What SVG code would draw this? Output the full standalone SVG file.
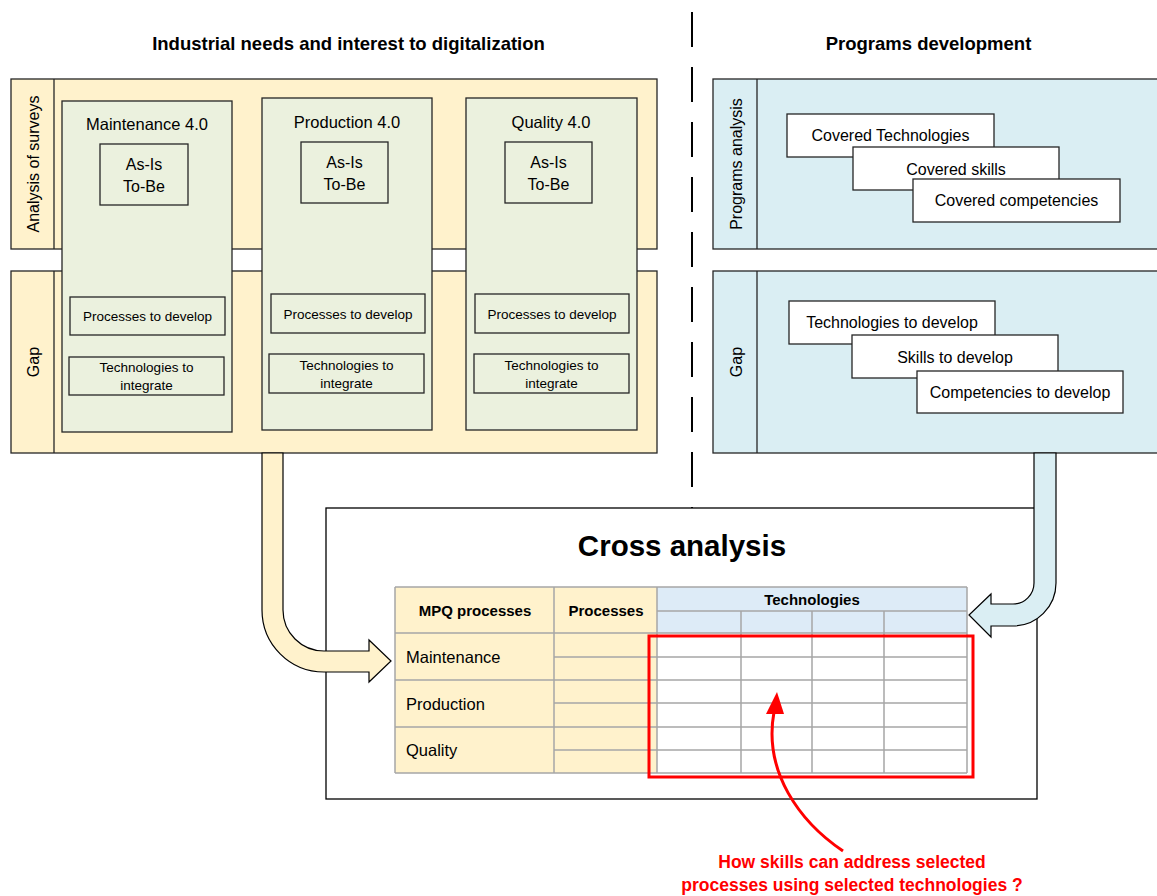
<svg xmlns="http://www.w3.org/2000/svg" width="1157" height="896" viewBox="0 0 1157 896">
<style>
text{font-family:"Liberation Sans",Arial,sans-serif;fill:#000}
.tan{fill:#FFF2CC;stroke:#262626;stroke-width:1.3}
.blu{fill:#DAEEF3;stroke:#262626;stroke-width:1.3}
.grn{fill:#EBF1DE;stroke:#262626;stroke-width:1.3}
.wht{fill:#fff;stroke:#262626;stroke-width:1.3}
.div{stroke:#262626;stroke-width:1.3}
.hd{font-weight:bold;font-size:18.5px;text-anchor:middle}
.ct{font-size:16.5px;text-anchor:middle}
.ab{font-size:16px;text-anchor:middle}
.sm{font-size:13.5px;text-anchor:middle}
.vl{font-size:16px;text-anchor:middle}
.bx{font-size:16px;text-anchor:middle}
.grid{stroke:#A6A6A6;stroke-width:1.5;fill:none}
.tb{font-weight:bold;font-size:15px;text-anchor:middle}
.rl{font-size:16.5px}
.red{fill:#FF0000;font-weight:bold;font-size:17.5px;text-anchor:middle}
</style>

<g id="headings">
<text class="hd" x="348.5" y="50">Industrial needs and interest to digitalization</text>
<text class="hd" x="928.5" y="50">Programs development</text>
</g>

<g id="separator">
<line x1="692" y1="12" x2="692" y2="508" stroke="#000" stroke-width="2" stroke-dasharray="35 20"/>
</g>

<g id="left-bands">
<rect class="tan" x="11" y="79" width="646" height="170"/>
<line class="div" x1="54" y1="79" x2="54" y2="249"/>
<text class="vl" transform="translate(39 164) rotate(-90)">Analysis of surveys</text>
<rect class="tan" x="11" y="271" width="646" height="182"/>
<line class="div" x1="54" y1="271" x2="54" y2="453"/>
<text class="vl" transform="translate(39 362) rotate(-90)">Gap</text>
</g>

<g id="maintenance">
<rect class="grn" x="62" y="101" width="170" height="331"/>
<text class="ct" x="147" y="130">Maintenance 4.0</text>
<rect class="grn" x="100" y="144" width="88" height="61"/>
<text class="ab" x="144" y="170">As-Is</text>
<text class="ab" x="144" y="192">To-Be</text>
<rect class="grn" x="70" y="297" width="155" height="38"/>
<text class="sm" x="147.5" y="321">Processes to develop</text>
<rect class="grn" x="69" y="357" width="155" height="38"/>
<text class="sm" x="146.5" y="372">Technologies to</text>
<text class="sm" x="146.5" y="390">integrate</text>
</g>

<g id="production">
<rect class="grn" x="262" y="98" width="170" height="332"/>
<text class="ct" x="347" y="128">Production 4.0</text>
<rect class="grn" x="301" y="142" width="87" height="61"/>
<text class="ab" x="344.5" y="168">As-Is</text>
<text class="ab" x="344.5" y="190">To-Be</text>
<rect class="grn" x="271" y="294" width="154" height="39"/>
<text class="sm" x="348" y="319">Processes to develop</text>
<rect class="grn" x="269" y="354" width="155" height="39"/>
<text class="sm" x="346.5" y="370">Technologies to</text>
<text class="sm" x="346.5" y="388">integrate</text>
</g>

<g id="quality">
<rect class="grn" x="466" y="98" width="171" height="332"/>
<text class="ct" x="551" y="128">Quality 4.0</text>
<rect class="grn" x="505" y="142" width="87" height="61"/>
<text class="ab" x="548.5" y="168">As-Is</text>
<text class="ab" x="548.5" y="190">To-Be</text>
<rect class="grn" x="475" y="294" width="154" height="39"/>
<text class="sm" x="552" y="319">Processes to develop</text>
<rect class="grn" x="474" y="354" width="155" height="39"/>
<text class="sm" x="551.5" y="370">Technologies to</text>
<text class="sm" x="551.5" y="388">integrate</text>
</g>

<g id="right-bands">
<rect class="blu" x="713" y="79" width="450" height="170"/>
<line class="div" x1="757" y1="79" x2="757" y2="249"/>
<text class="vl" transform="translate(742 164) rotate(-90)">Programs analysis</text>
<rect class="blu" x="713" y="271" width="450" height="182"/>
<line class="div" x1="757" y1="271" x2="757" y2="453"/>
<text class="vl" transform="translate(742 362) rotate(-90)">Gap</text>
</g>

<g id="programs-analysis">
<rect class="wht" x="787" y="114" width="207" height="43"/>
<text class="bx" x="890.5" y="141">Covered Technologies</text>
<rect class="wht" x="853" y="147" width="206" height="43"/>
<text class="bx" x="956" y="175">Covered skills</text>
<rect class="wht" x="913" y="179" width="207" height="43"/>
<text class="bx" x="1016.5" y="206">Covered competencies</text>
</g>

<g id="programs-gap">
<rect class="wht" x="789" y="301" width="206" height="43"/>
<text class="bx" x="892" y="328">Technologies to develop</text>
<rect class="wht" x="852" y="335" width="206" height="43"/>
<text class="bx" x="955" y="363">Skills to develop</text>
<rect class="wht" x="917" y="371" width="206" height="42"/>
<text class="bx" x="1020" y="398">Competencies to develop</text>
</g>

<g id="cross-analysis">
<rect x="326" y="508" width="711" height="291" fill="#fff" stroke="#000" stroke-width="1.3"/>
<text x="682" y="556" font-weight="bold" font-size="29.5px" text-anchor="middle">Cross analysis</text>
<rect x="395" y="587" width="262" height="186" fill="#FFF2CC"/>
<rect x="657" y="587" width="310" height="46" fill="#DDEBF7"/>
<rect x="657" y="633" width="310" height="140" fill="#fff"/>
<path class="grid" d="M395,587H967M657,611H967M395,633H967M554,657H967M395,680H967M554,703H967M395,727H967M554,750H967M395,773H967M395,587V773M554,587V773M657,587V773M741,611V773M812,611V773M884,611V773M967,587V773"/>
<text class="tb" x="475" y="616">MPQ processes</text>
<text class="tb" x="606" y="616">Processes</text>
<text class="tb" x="812" y="605">Technologies</text>
<text class="rl" x="406" y="663">Maintenance</text>
<text class="rl" x="406" y="710">Production</text>
<text class="rl" x="406" y="756">Quality</text>
<rect x="649" y="636" width="324" height="141" fill="none" stroke="#FF0000" stroke-width="3"/>
</g>

<g id="connectors">
<path d="M262,453 L262,610 A62,62 0 0 0 324,672 L369,672 L369,682 L391,661 L369,640 L369,651 L324,651 A41,41 0 0 1 283,610 L283,453 Z" fill="#FFF2CC" stroke="#000" stroke-width="1.2"/>
<path d="M1034,453 L1034,583 A21,21 0 0 1 1013,604 L991,604 L991,594 L969,615 L991,637 L991,626 L1013,626 A43,43 0 0 0 1056,583 L1056,453 Z" fill="#DAEEF3" stroke="#000" stroke-width="1.2"/>
<path d="M843,851 C800,822 763,772 774,712" fill="none" stroke="#FF0000" stroke-width="3"/>
<polygon points="777,692 766,714 784,714" fill="#FF0000"/>
</g>

<g id="question">
<text class="red" x="852" y="868">How skills can address selected</text>
<text class="red" x="852" y="891">processes using selected technologies ?</text>
</g>
</svg>
